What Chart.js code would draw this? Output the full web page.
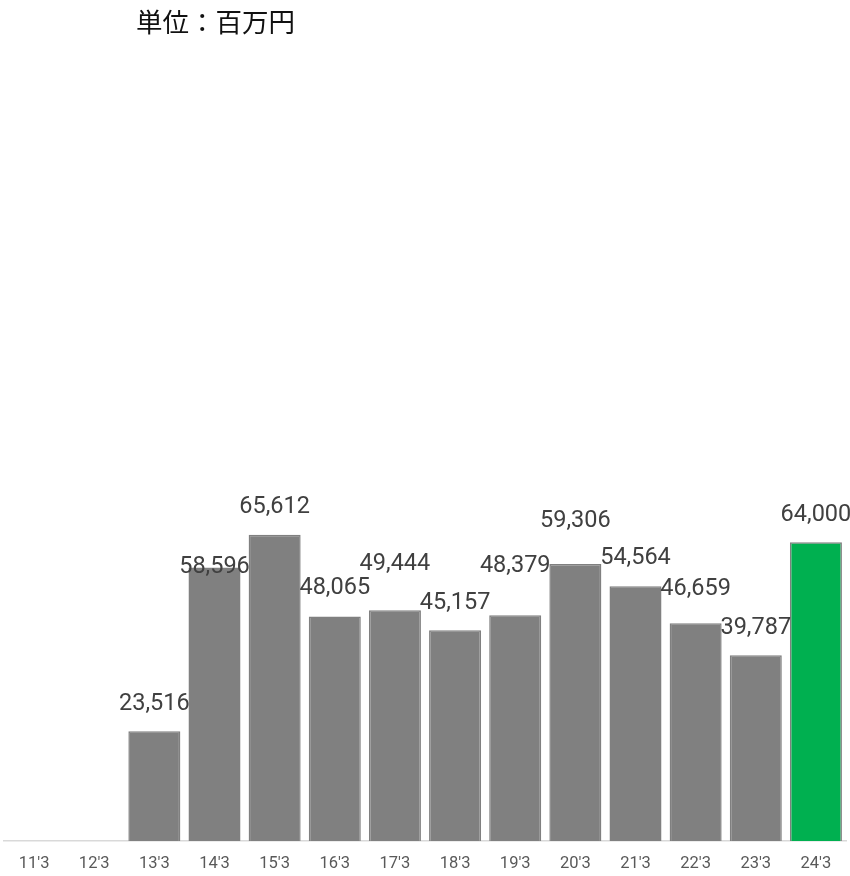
<!DOCTYPE html>
<html>
<head>
<meta charset="utf-8">
<script src="https://cdn.jsdelivr.net/npm/chart.js@4.4.1/dist/chart.umd.min.js"></script>
<style>
  html, body { margin: 0; padding: 0; background: #fff; }
  #wrap { width: 850px; height: 876px; }
</style>
</head>
<body>
<div id="wrap"><canvas id="sales"></canvas></div>
<script>
const years = ["11'3", "12'3", "13'3", "14'3", "15'3", "16'3", "17'3", "18'3", "19'3", "20'3", "21'3", "22'3", "23'3", "24'3"];
const amounts = [null, null, 23516, 58596, 65612, 48065, 49444, 45157, 48379, 59306, 54564, 46659, 39787, 64000];
const unitText = "単位：百万円";

// label lift above each bar top (px), nudged like the original to avoid overlaps
const labelLift = [27, 27, 27, 0, 28, 28, 46, 27, 49, 43, 28, 34, 27, 27];
const barColors = years.map((y, i) => i === years.length - 1 ? "#00b050" : "#808080");

const valueLabels = {
  id: "valueLabels",
  afterDatasetsDraw(chart) {
    const ctx = chart.ctx;
    const meta = chart.getDatasetMeta(0);
    ctx.save();
    ctx.font = "23.5px Roboto, 'Noto Sans', sans-serif";
    ctx.fillStyle = "#404040";
    ctx.textAlign = "center";
    ctx.textBaseline = "middle";
    meta.data.forEach((bar, i) => {
      const v = amounts[i];
      if (v == null) return;
      ctx.fillText(v.toLocaleString("en-US"), bar.x, bar.y - labelLift[i]);
    });
    ctx.restore();
  }
};

const unitTitle = {
  id: "unitTitle",
  afterDraw(chart) {
    const ctx = chart.ctx;
    ctx.save();
    ctx.font = "26.5px 'Noto Sans CJK JP', sans-serif";
    ctx.fillStyle = "#111";
    ctx.textAlign = "left";
    ctx.textBaseline = "middle";
    ctx.fillText(unitText, 136, 22);
    ctx.restore();
  }
};

new Chart(document.getElementById("sales"), {
  type: "bar",
  data: {
    labels: years,
    datasets: [
      {
        data: amounts,
        backgroundColor: barColors,
        borderColor: "#808080",
        borderWidth: 1.5,
        categoryPercentage: 1,
        barPercentage: 0.865
      }
    ]
  },
  options: {
    responsive: true,
    maintainAspectRatio: false,
    animation: false,
    layout: { padding: { left: 4, right: 4, top: 94, bottom: 0 } },
    plugins: {
      legend: { display: false },
      tooltip: { enabled: false }
    },
    scales: {
      x: {
        grid: { display: false, drawTicks: false },
        border: { display: true, color: "#d9d9d9", width: 1.5 },
        ticks: {
          color: "#595959",
          padding: 13,
          font: { family: "Roboto, 'Noto Sans', sans-serif", size: 16.5 }
        },
        afterFit(scale) { scale.height = 35; }
      },
      y: {
        display: false,
        min: 0,
        max: 160000
      }
    }
  },
  plugins: [valueLabels, unitTitle]
});
</script>
</body>
</html>
